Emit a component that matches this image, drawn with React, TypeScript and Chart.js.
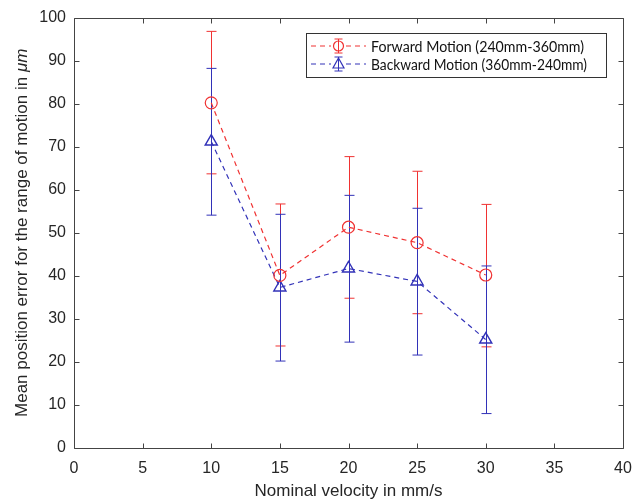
import React, { useEffect, useRef } from "react";
import { Chart, registerables } from "chart.js";

Chart.register(...registerables);

const velocities = [10, 15, 20, 25, 30];
const forwardMean = [80.2, 40.1, 51.3, 47.7, 40.2];
const forwardUpper = [96.8, 56.7, 67.7, 64.3, 56.6];
const forwardLower = [63.7, 23.7, 34.8, 31.2, 23.5];
const backwardMean = [71.2, 37.3, 41.7, 38.7, 25.2];
const backwardUpper = [88.2, 54.3, 58.7, 55.7, 42.3];
const backwardLower = [54.1, 20.2, 24.6, 21.6, 8.0];
const xTicks = [0, 5, 10, 15, 20, 25, 30, 35, 40];
const yTicks = [0, 10, 20, 30, 40, 50, 60, 70, 80, 90, 100];
const seriesLabels = ["Forward Motion (240mm-360mm)", "Backward Motion (360mm-240mm)"];
const xTitle = "Nominal velocity in mm/s";
const yTitleMain = "Mean position error for the range of motion in ";
const yTitleUnit = "\u03bcm";

const RED = "rgb(240,50,50)";
const BLUE = "rgb(50,50,184)";
const AXIS = "#444444";
const TEXT = "#262626";
const SANS = '"Liberation Sans", Arial, sans-serif';
const LEGEND_FONT = '14.5px Lato, "Open Sans", sans-serif';

const errorBars = [
  { upper: forwardUpper, lower: forwardLower, color: RED },
  { upper: backwardUpper, lower: backwardLower, color: BLUE },
];

function drawErrorBar(ctx: CanvasRenderingContext2D, x: number, yTop: number, yBot: number, color: string, cap: number) {
  ctx.save();
  ctx.strokeStyle = color;
  ctx.lineWidth = 1;
  ctx.setLineDash([]);
  ctx.beginPath();
  ctx.moveTo(x, yTop);
  ctx.lineTo(x, yBot);
  ctx.moveTo(x - cap, yTop);
  ctx.lineTo(x + cap, yTop);
  ctx.moveTo(x - cap, yBot);
  ctx.lineTo(x + cap, yBot);
  ctx.stroke();
  ctx.restore();
}

const errorBarPlugin = {
  id: "errorBars",
  beforeDatasetsDraw(chart: any) {
    const ctx = chart.ctx;
    const xs = chart.scales.x;
    const ys = chart.scales.y;
    errorBars.forEach((eb) => {
      velocities.forEach((v, j) => {
        const x = Math.round(xs.getPixelForValue(v)) + 0.5;
        drawErrorBar(ctx, x, ys.getPixelForValue(eb.upper[j]), ys.getPixelForValue(eb.lower[j]), eb.color, 5);
      });
    });
  },
};

const framePlugin = {
  id: "frame",
  afterDraw(chart: any) {
    const ctx: CanvasRenderingContext2D = chart.ctx;
    const a = chart.chartArea;
    const xs = chart.scales.x;
    const ys = chart.scales.y;
    ctx.save();
    ctx.strokeStyle = AXIS;
    ctx.lineWidth = 1;
    ctx.setLineDash([]);
    const L = Math.round(a.left) + 0.5;
    const R = Math.round(a.right) + 0.5;
    const T = Math.round(a.top) + 0.5;
    const B = Math.round(a.bottom) + 0.5;
    ctx.beginPath();
    ctx.rect(L, T, R - L, B - T);
    const len = 5;
    xTicks.forEach((t) => {
      const x = Math.round(xs.getPixelForValue(t)) + 0.5;
      ctx.moveTo(x, B);
      ctx.lineTo(x, B - len);
      ctx.moveTo(x, T);
      ctx.lineTo(x, T + len);
    });
    yTicks.forEach((t) => {
      const y = Math.round(ys.getPixelForValue(t)) + 0.5;
      ctx.moveTo(L, y);
      ctx.lineTo(L + len, y);
      ctx.moveTo(R, y);
      ctx.lineTo(R - len, y);
    });
    ctx.stroke();

    // axis titles
    ctx.fillStyle = TEXT;
    ctx.textBaseline = "middle";
    ctx.textAlign = "center";
    ctx.font = "17px " + SANS;
    ctx.fillText(xTitle, (a.left + a.right) / 2, 491);

    ctx.save();
    ctx.translate(22, (a.top + a.bottom) / 2);
    ctx.rotate(-Math.PI / 2);
    ctx.textAlign = "left";
    ctx.font = "17px " + SANS;
    const w1 = ctx.measureText(yTitleMain).width;
    ctx.font = "italic 17px " + SANS;
    const w2 = ctx.measureText(yTitleUnit).width;
    const start = -(w1 + w2) / 2;
    ctx.font = "17px " + SANS;
    ctx.fillText(yTitleMain, start, 0);
    ctx.font = "italic 17px " + SANS;
    ctx.fillText(yTitleUnit, start + w1, 0);
    ctx.restore();

    // legend
    const bx = 306.5, by = 33.5, bw = 300, bh = 44;
    ctx.fillStyle = "#ffffff";
    ctx.fillRect(bx, by, bw, bh);
    ctx.strokeStyle = "#333333";
    ctx.strokeRect(bx, by, bw, bh);
    const rows = [
      { y: 46, color: RED, shape: "circle", label: seriesLabels[0] },
      { y: 64, color: BLUE, shape: "triangle", label: seriesLabels[1] },
    ];
    rows.forEach((r) => {
      ctx.save();
      ctx.strokeStyle = r.color;
      ctx.lineWidth = 1.2;
      ctx.setLineDash([5, 4]);
      ctx.beginPath();
      ctx.moveTo(311, r.y);
      ctx.lineTo(331, r.y);
      ctx.moveTo(346, r.y);
      ctx.lineTo(366, r.y);
      ctx.stroke();
      ctx.restore();
      drawErrorBar(ctx, 338.5, r.y - 7, r.y + 7, r.color, 4);
      ctx.save();
      ctx.strokeStyle = r.color;
      ctx.lineWidth = 1.2;
      ctx.beginPath();
      if (r.shape === "circle") {
        ctx.arc(338.5, r.y, 5, 0, Math.PI * 2);
      } else {
        ctx.moveTo(338.5, r.y - 6);
        ctx.lineTo(344, r.y + 4);
        ctx.lineTo(333, r.y + 4);
        ctx.closePath();
      }
      ctx.stroke();
      ctx.restore();
      ctx.fillStyle = "#111111";
      ctx.textAlign = "left";
      ctx.textBaseline = "middle";
      ctx.font = LEGEND_FONT;
      const natural = ctx.measureText(r.label).width;
      ctx.save();
      ctx.translate(371, r.y + 1);
      const target = r.shape === "circle" ? 213 : 216;
      ctx.scale(Math.min(1.1, target / natural), 1);
      ctx.fillText(r.label, 0, 0);
      ctx.restore();
    });
    ctx.restore();
  },
};

export default function App() {
  const ref = useRef<HTMLCanvasElement | null>(null);
  useEffect(() => {
    if (!ref.current) return;
    const toPts = (vals: number[]) => velocities.map((v, i) => ({ x: v, y: vals[i] }));
    const chart = new Chart(ref.current, {
      type: "line",
      data: {
        datasets: [
          {
            label: seriesLabels[0],
            data: toPts(forwardMean),
            borderColor: RED,
            borderWidth: 1.2,
            borderDash: [5, 4],
            pointStyle: "circle",
            pointRadius: 6,
            pointBorderWidth: 1.2,
            pointBorderColor: RED,
            pointBackgroundColor: "rgba(0,0,0,0)",
            fill: false,
            tension: 0,
          },
          {
            label: seriesLabels[1],
            data: toPts(backwardMean),
            borderColor: BLUE,
            borderWidth: 1.2,
            borderDash: [5, 4],
            pointStyle: "triangle",
            pointRadius: 7,
            pointBorderWidth: 1.4,
            pointBorderColor: BLUE,
            pointBackgroundColor: "rgba(0,0,0,0)",
            fill: false,
            tension: 0,
          },
        ],
      },
      options: {
        responsive: false,
        animation: false,
        layout: { padding: { top: 17, right: 21, left: 0, bottom: 0 } },
        plugins: { legend: { display: false }, tooltip: { enabled: false } },
        scales: {
          x: {
            type: "linear",
            min: 0,
            max: 40,
            afterBuildTicks: (s: any) => {
              s.ticks = xTicks.map((v) => ({ value: v }));
            },
            afterFit: (s: any) => {
              s.height = 54;
            },
            grid: { display: false, drawTicks: false },
            border: { display: false },
            ticks: { color: TEXT, font: { family: SANS, size: 16 }, padding: 11, maxRotation: 0, autoSkip: false },
          },
          y: {
            type: "linear",
            min: 0,
            max: 100,
            afterBuildTicks: (s: any) => {
              s.ticks = yTicks.map((v) => ({ value: v }));
            },
            afterFit: (s: any) => {
              s.width = 74;
            },
            grid: { display: false, drawTicks: false },
            border: { display: false },
            ticks: { color: TEXT, font: { family: SANS, size: 16 }, padding: 8, autoSkip: false },
          },
        },
      },
      plugins: [errorBarPlugin, framePlugin],
    } as any);
    const fonts = (document as any).fonts;
    if (fonts && fonts.load) {
      Promise.all([
        fonts.load('16px "Liberation Sans"'),
        fonts.load('italic 17px "Liberation Sans"'),
        fonts.load("14.5px Lato"),
      ])
        .then(() => chart.update())
        .catch(() => {});
    }
    return () => chart.destroy();
  }, []);
  return (
    <div style={{ position: "fixed", left: 0, top: 0, width: 644, height: 502, background: "#fff" }}>
      <canvas ref={ref} width={644} height={502} style={{ display: "block" }} />
    </div>
  );
}
